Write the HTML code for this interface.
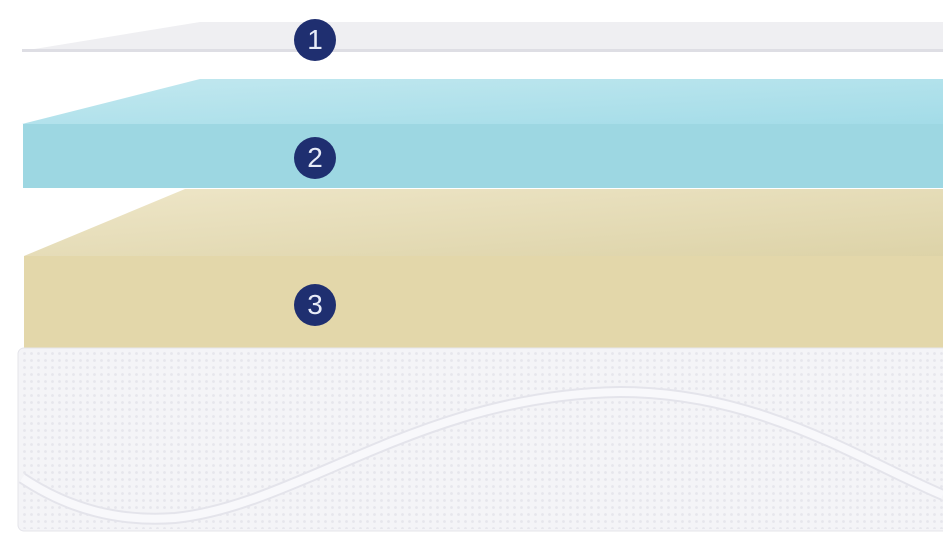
<!DOCTYPE html>
<html><head><style>
html,body{margin:0;padding:0;background:#fff;width:943px;height:550px;overflow:hidden}
.c{position:absolute;width:42px;height:42px;border-radius:50%;background:#1f2f70;color:#e8ecf8;font:28px "Liberation Sans",sans-serif;text-align:center;line-height:42px;left:294px}
</style></head><body>
<svg width="943" height="550" style="position:absolute;left:0;top:0">
<defs>
<linearGradient id="bt" x1="0" y1="0" x2="1" y2="1"><stop offset="0" stop-color="#c2e8ef"/><stop offset="1" stop-color="#a3dce8"/></linearGradient>
<linearGradient id="yt" x1="0" y1="0" x2="1" y2="1"><stop offset="0" stop-color="#eee6c8"/><stop offset="1" stop-color="#ddd3a8"/></linearGradient>
<pattern id="dots" width="7" height="7" patternUnits="userSpaceOnUse"><circle cx="3.5" cy="3.5" r="1.4" fill="#e2e2e9"/></pattern>
</defs>
<polygon points="22,51 200,22 943,22 943,49" fill="#efeff2"/>
<rect x="22" y="49" width="921" height="3" fill="#dedee4"/>
<polygon points="22,124 200,79 943,79 943,124" fill="url(#bt)"/>
<rect x="23" y="124" width="920" height="64" fill="#9dd7e2"/>
<polygon points="24,256 185,189 943,189 943,256" fill="url(#yt)"/>
<rect x="24" y="256" width="919" height="94" fill="#e3d7aa"/>
<rect x="18" y="348" width="940" height="183" rx="6" fill="#f4f4f7" stroke="#e4e4ea"/>
<rect x="20" y="350" width="930" height="179" rx="5" fill="url(#dots)" opacity="0.8"/>
<path d="M22,478 C70,510 120,522 175,518 C300,505 420,395 620,392 C760,392 860,460 943,495" stroke="#e4e4eb" stroke-width="12" fill="none"/>
<path d="M22,478 C70,510 120,522 175,518 C300,505 420,395 620,392 C760,392 860,460 943,495" stroke="#f8f8fb" stroke-width="8" fill="none"/>
</svg>
<div class="c" style="top:19px">1</div>
<div class="c" style="top:137px">2</div>
<div class="c" style="top:284px">3</div>
</body></html>
